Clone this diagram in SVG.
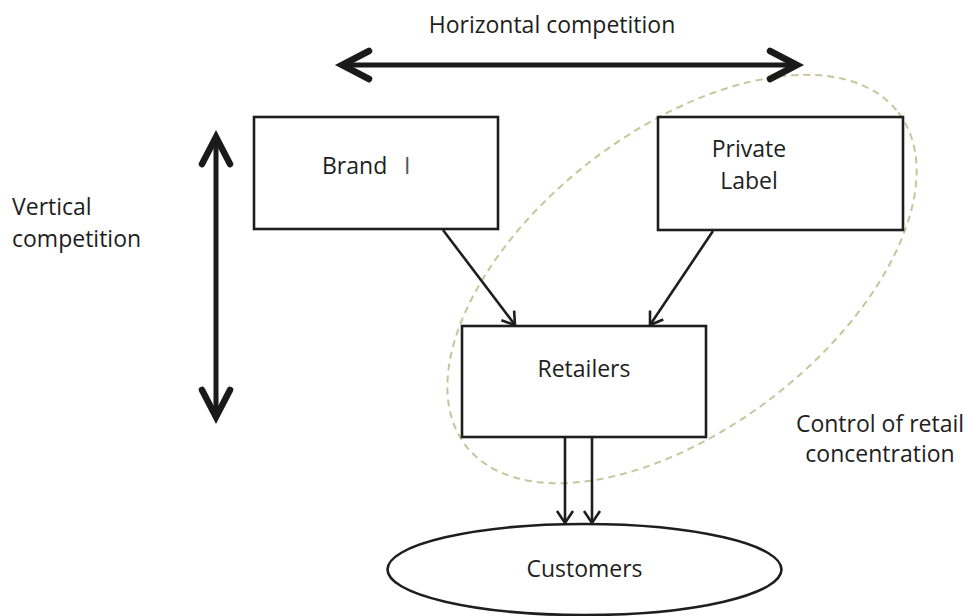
<svg xmlns="http://www.w3.org/2000/svg" width="967" height="616" viewBox="0 0 967 616">
  <style>
    .box { fill: #ffffff; stroke: #1e1e1e; stroke-width: 2.6; }
    .lbl { font-family: "Open Sans", "Liberation Sans", sans-serif; font-size: 23px; fill: #1e1e1e; }
    .mid { text-anchor: middle; }
    .link { fill: none; stroke: #1e1e1e; stroke-width: 2.6; }
    .bold { fill: none; stroke: #1a1a1a; stroke-width: 5; }
    .zone { fill: none; stroke: #c6c69c; stroke-width: 2; stroke-dasharray: 7 5; }
  </style>
  <defs>
    <!-- open chevron head for the thin connectors -->
    <marker id="open" markerUnits="userSpaceOnUse" orient="auto" refX="0" refY="0" markerWidth="20" markerHeight="20" overflow="visible">
      <path d="M -12 -8 L 0 0 L -12 8" fill="none" stroke="#1e1e1e" stroke-width="2.6" stroke-linejoin="miter"/>
    </marker>
    <!-- heavy chevron head for the competition arrows -->
    <marker id="heavy" markerUnits="userSpaceOnUse" orient="auto-start-reverse" refX="-3" refY="0" markerWidth="40" markerHeight="40" overflow="visible">
      <path d="M -27 -14 L 0 0 L -27 14" fill="none" stroke="#1a1a1a" stroke-width="6.5" stroke-linecap="round" stroke-linejoin="miter"/>
    </marker>
  </defs>

  <!-- dashed zone around Private Label and Retailers -->
  <g id="retail-concentration">
    <ellipse class="zone" cx="682" cy="279" rx="273" ry="149" transform="rotate(-37.6 682 279)"/>
  </g>

  <!-- competition arrows -->
  <g id="horizontal-competition">
    <line class="bold" x1="345" y1="65" x2="794" y2="65" marker-start="url(#heavy)" marker-end="url(#heavy)"/>
    <text class="lbl mid" x="552" y="33">Horizontal competition</text>
  </g>
  <g id="vertical-competition">
    <line class="bold" x1="216" y1="140" x2="216" y2="414" marker-start="url(#heavy)" marker-end="url(#heavy)"/>
    <text class="lbl" x="12" y="215">Vertical</text>
    <text class="lbl" x="12" y="247">competition</text>
  </g>

  <!-- nodes -->
  <g id="brand">
    <rect class="box" x="254" y="117" width="244" height="112"/>
    <text class="lbl" x="322" y="174">Brand<tspan x="404" fill="#555555">I</tspan></text>
  </g>
  <g id="private-label">
    <rect class="box" x="658" y="117" width="245" height="113"/>
    <text class="lbl mid" x="749" y="157">Private</text>
    <text class="lbl mid" x="749" y="189">Label</text>
  </g>
  <g id="retailers">
    <rect class="box" x="462" y="326" width="244" height="111"/>
    <text class="lbl mid" x="584" y="377">Retailers</text>
  </g>
  <g id="customers">
    <ellipse class="box" cx="584.5" cy="569.5" rx="197" ry="45.5"/>
    <text class="lbl mid" x="584.5" y="577">Customers</text>
  </g>

  <g id="retail-note">
    <text class="lbl mid" x="880" y="432">Control of retail</text>
    <text class="lbl mid" x="880" y="462">concentration</text>
  </g>

  <!-- connectors -->
  <g id="connectors">
    <line class="link" x1="443" y1="230" x2="515" y2="325" marker-end="url(#open)"/>
    <line class="link" x1="713" y1="231" x2="650" y2="325" marker-end="url(#open)"/>
    <line class="link" x1="565" y1="438" x2="565" y2="523" marker-end="url(#open)"/>
    <line class="link" x1="592" y1="438" x2="592" y2="523" marker-end="url(#open)"/>
  </g>
</svg>
